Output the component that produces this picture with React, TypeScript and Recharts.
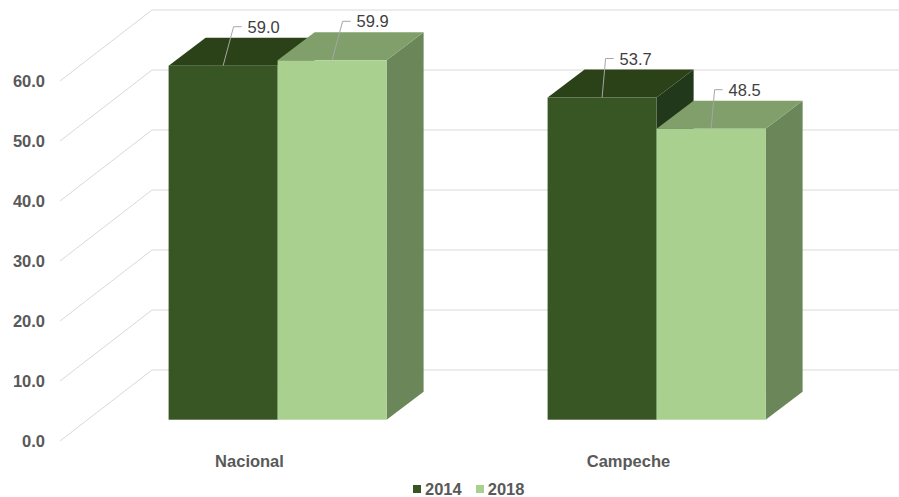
import React from 'react';
import { BarChart, Bar, XAxis, YAxis, CartesianGrid, Legend, LabelList } from 'recharts';

const categories = ['Nacional', 'Campeche'];
const series2014 = [59.0, 53.7];
const series2018 = [59.9, 48.5];
const yTicks = [0, 10, 20, 30, 40, 50, 60];

const data = categories.map((name, i) => ({ name, y2014: series2014[i], y2018: series2018[i] }));

const WIDTH = 899;
const HEIGHT = 497;
const FONT = '"Liberation Sans", Arial, sans-serif';
const FS = 16.5;

// floor depth (front edge -> back wall) and where the bars sit inside it
const DEPTH_X = 92;
const DEPTH_Y = -71;
const BAR_POS = 0.3;
const BAR_DX = 37;
const BAR_DY = -28;

const faces = {
  y2014: { front: '#375623', top: '#2b4219', side: '#22381a' },
  y2018: { front: '#a9d08e', top: '#819f6b', side: '#6b8759' },
};

// leader line tilt per category (Excel places them slightly differently)
const leaderDx = [10.5, 3.5];

const GridLine = (props: any) => {
  const { x1, y1 } = props;
  const bx = x1 + DEPTH_X;
  const by = y1 + DEPTH_Y;
  return (
    <g>
      <line x1={x1} y1={y1} x2={bx} y2={by} stroke="#d9d9d9" strokeWidth={1} />
      <line x1={bx} y1={by} x2={WIDTH} y2={by} stroke="#d9d9d9" strokeWidth={1} />
    </g>
  );
};

const makeBox = (key: 'y2014' | 'y2018') => (props: any) => {
  const { x, y, width, height } = props;
  const c = faces[key];
  const fx = x + DEPTH_X * BAR_POS;
  const fy = y + DEPTH_Y * BAR_POS;
  const bottom = y + height + DEPTH_Y * BAR_POS;
  const w = width;
  const top = `${fx},${fy} ${fx + w},${fy} ${fx + w + BAR_DX},${fy + BAR_DY} ${fx + BAR_DX},${fy + BAR_DY}`;
  const side = `${fx + w},${fy} ${fx + w + BAR_DX},${fy + BAR_DY} ${fx + w + BAR_DX},${bottom + BAR_DY} ${fx + w},${bottom}`;
  return (
    <g>
      <polygon points={side} fill={c.side} />
      <polygon points={top} fill={c.top} />
      <rect x={fx} y={fy} width={w} height={bottom - fy} fill={c.front} />
    </g>
  );
};

const DataLabel = (props: any) => {
  const { x, y, width, value, index } = props;
  const cx = x + width / 2 + DEPTH_X * BAR_POS;
  const ty = y + DEPTH_Y * BAR_POS;
  const lx = cx + leaderDx[index];
  const ly = ty - 39;
  return (
    <g>
      <polyline points={`${cx},${ty} ${lx},${ly} ${lx + 8},${ly}`} fill="none" stroke="#a6a6a6" strokeWidth={1} />
      <text x={lx + 14} y={ly + 6} fontSize={FS} fontFamily={FONT} fill="#404040">
        {Number(value).toFixed(1)}
      </text>
    </g>
  );
};

const YTick = (props: any) => {
  const { y, payload } = props;
  return (
    <text x={45} y={y + 6} textAnchor="end" fontSize={FS} fontWeight="bold" fontFamily={FONT} fill="#595959">
      {Number(payload.value).toFixed(1)}
    </text>
  );
};

const XTick = (props: any) => {
  const { x, y, payload } = props;
  return (
    <text x={x} y={y + 26} textAnchor="middle" fontSize={FS} fontWeight="bold" fontFamily={FONT} fill="#595959">
      {payload.value}
    </text>
  );
};

const LegendContent = (props: any) => {
  const { payload } = props;
  return (
    <div style={{ display: 'flex', alignItems: 'center', fontFamily: FONT, fontSize: FS, fontWeight: 'bold', color: '#595959', lineHeight: '18px' }}>
      {(payload || []).map((p: any) => (
        <div key={p.value} style={{ display: 'flex', alignItems: 'center', marginRight: 14 }}>
          <span style={{ width: 8, height: 8, background: p.color, marginRight: 4, display: 'inline-block' }} />
          <span>{p.value}</span>
        </div>
      ))}
    </div>
  );
};

export default function App() {
  return (
    <div style={{ position: 'absolute', left: 0, top: 0, width: WIDTH, height: HEIGHT, background: '#fff' }}>
      <BarChart width={WIDTH} height={HEIGHT} data={data} margin={{ top: 81, right: 81, left: 0, bottom: 0 }} barSize={109} barGap={0}>
        <CartesianGrid vertical={false} horizontal={GridLine} />
        <XAxis dataKey="name" axisLine={false} tickLine={false} tickSize={0} tickMargin={0} height={56} tick={XTick} interval={0} />
        <YAxis domain={[0, 60]} ticks={yTicks} axisLine={false} tickLine={false} width={60} tick={YTick} interval={0} />
        <Legend
          layout="horizontal"
          verticalAlign="middle"
          align="center"
          content={LegendContent}
          wrapperStyle={{ left: 413, top: 480, width: 200, height: 18 }}
        />
        <Bar dataKey="y2014" name="2014" fill={faces.y2014.front} shape={makeBox('y2014')} isAnimationActive={false}>
          <LabelList dataKey="y2014" content={DataLabel} />
        </Bar>
        <Bar dataKey="y2018" name="2018" fill={faces.y2018.front} shape={makeBox('y2018')} isAnimationActive={false}>
          <LabelList dataKey="y2018" content={DataLabel} />
        </Bar>
      </BarChart>
    </div>
  );
}
